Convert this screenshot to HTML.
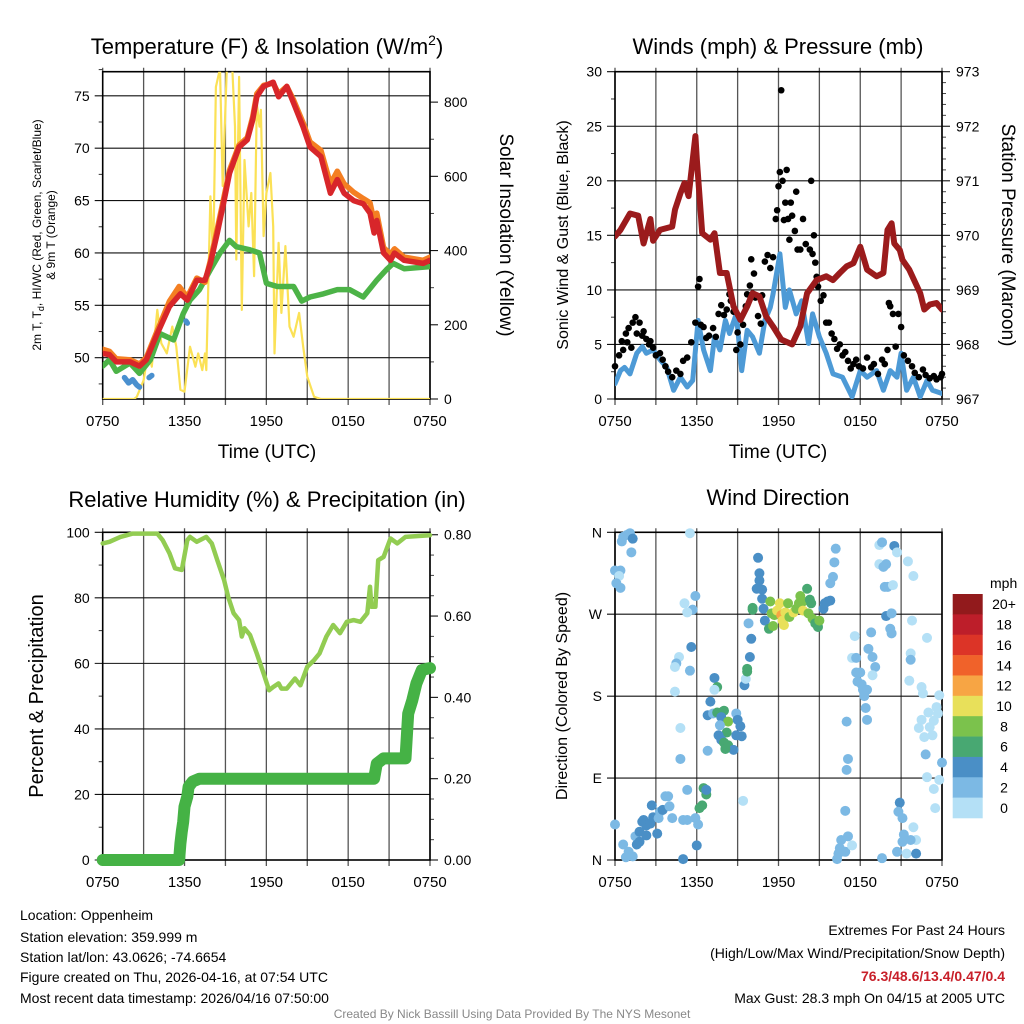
<!DOCTYPE html>
<html><head><meta charset="utf-8"><style>
html,body{margin:0;padding:0;background:#fff}
svg{display:block;font-family:"Liberation Sans",Arial,sans-serif}
</style></head><body>
<svg id="chart" width="1024" height="1024" viewBox="0 0 1024 1024" xmlns="http://www.w3.org/2000/svg">
<defs>
<clipPath id="c1"><rect x="102.7" y="71.7" width="327.3" height="327.3"/></clipPath>
<clipPath id="c2"><rect x="615" y="71.7" width="327" height="327.3"/></clipPath>
<clipPath id="c3"><rect x="96" y="526" width="340" height="340"/></clipPath>
<clipPath id="c4"><rect x="609" y="526" width="339" height="340"/></clipPath>
</defs>
<g id="layer"></g>
<text x="267" y="54" font-size="22" text-anchor="middle">Temperature (F) &amp; Insolation (W/m<tspan dy="-9" font-size="14">2</tspan><tspan dy="9">)</tspan></text>
<text x="778" y="54" font-size="22" text-anchor="middle">Winds (mph) &amp; Pressure (mb)</text>
<text x="267" y="507" font-size="22" text-anchor="middle">Relative Humidity (%) &amp; Precipitation (in)</text>
<text x="778" y="505" font-size="22" text-anchor="middle">Wind Direction</text>
<text x="267" y="458" font-size="19" text-anchor="middle">Time (UTC)</text>
<text x="778" y="458" font-size="19" text-anchor="middle">Time (UTC)</text>
<text transform="translate(41,235) rotate(-90)" font-size="12" text-anchor="middle">2m T, T<tspan dy="3" font-size="9">d</tspan><tspan dy="-3">, HI/WC (Red, Green, Scarlet/Blue)</tspan></text>
<text transform="translate(55,235) rotate(-90)" font-size="12" text-anchor="middle">&amp; 9m T (Orange)</text>
<text transform="translate(500,235) rotate(90)" font-size="19" text-anchor="middle">Solar Insolation (Yellow)</text>
<text transform="translate(568,235) rotate(-90)" font-size="16" text-anchor="middle">Sonic Wind &amp; Gust (Blue, Black)</text>
<text transform="translate(1002,235) rotate(90)" font-size="19" text-anchor="middle">Station Pressure (Maroon)</text>
<text transform="translate(43,696) rotate(-90)" font-size="20" text-anchor="middle">Percent &amp; Precipitation</text>
<text transform="translate(567,696) rotate(-90)" font-size="16" text-anchor="middle">Direction (Colored By Speed)</text>
<text x="990" y="588" font-size="14">mph</text>
<g font-size="14">
<text x="20" y="920">Location: Oppenheim</text>
<text x="20" y="942">Station elevation: 359.999 m</text>
<text x="20" y="962">Station lat/lon: 43.0626; -74.6654</text>
<text x="20" y="982">Figure created on Thu, 2026-04-16, at 07:54 UTC</text>
<text x="20" y="1003">Most recent data timestamp: 2026/04/16 07:50:00</text>
</g>
<g font-size="14" text-anchor="end">
<text x="1005" y="935">Extremes For Past 24 Hours</text>
<text x="1005" y="958">(High/Low/Max Wind/Precipitation/Snow Depth)</text>
<text x="1005" y="981" fill="#c8202a" font-weight="bold">76.3/48.6/13.4/0.47/0.4</text>
<text x="1005" y="1003">Max Gust: 28.3 mph On 04/15 at 2005 UTC</text>
</g>
<text x="512" y="1018" font-size="12" fill="#888" text-anchor="middle">Created By Nick Bassill Using Data Provided By The NYS Mesonet</text>
</svg>
<script>
// ---------- data ----------
const xTickHours = [0, 6, 12, 18, 24];
const xTickLabels = ['0750', '1350', '1950', '0150', '0750'];
const tempTicks = [50, 55, 60, 65, 70, 75];
const solarTicks = [0, 200, 400, 600, 800];
const windTicks = [0, 5, 10, 15, 20, 25, 30];
const presTicks = [967, 968, 969, 970, 971, 972, 973];
const rhTicks = [0, 20, 40, 60, 80, 100];
const precipTicks = [0, 0.2, 0.4, 0.6, 0.8];
const precipTickLabels = ['0.00', '0.20', '0.40', '0.60', '0.80'];
const dirTicks = [0, 90, 180, 270, 360];
const dirTickLabels = ['N', 'E', 'S', 'W', 'N'];
const speedBins = ['0', '2', '4', '6', '8', '10', '12', '14', '16', '18', '20+'];
const speedColors = ['#b4e0f6', '#7cb9e4', '#4a8fc6', '#48a872', '#7bc24c', '#e8e05a', '#f7a544', '#f0622a', '#dc3427', '#bd1e2a', '#921a1c'];

const redT = [0, 0.5, 1, 2, 2.7, 3.2, 4, 4.9, 5.7, 6.2, 6.9, 7.5, 7.9, 8.4, 8.9, 9.3, 10, 10.6, 11, 11.3, 11.8, 12.5, 12.9, 13.5, 14, 14.7, 15.2, 16, 16.7, 17.2, 17.7, 18.4, 19.1, 19.6, 19.9, 20.1, 20.6, 21.1, 21.4, 22.1, 23.5, 24];
const redV = [50.4, 50.3, 49.6, 49.6, 49.2, 49.8, 52.3, 54.9, 56.1, 55.5, 57.4, 57.4, 59.0, 61.9, 65.0, 67.6, 70.1, 70.8, 72.7, 74.9, 75.9, 76.3, 74.9, 75.9, 74.3, 72.0, 70.1, 69.2, 65.7, 67.0, 65.7, 65.0, 64.7, 63.8, 61.9, 63.1, 60.0, 59.3, 60.0, 59.3, 59.0, 59.3];
const orangeT = [0, 0.5, 1, 2, 2.7, 3.2, 4, 4.9, 5.6, 6.2, 6.9, 7.5, 7.9, 8.4, 8.9, 9.3, 10, 10.6, 11, 11.3, 11.8, 12.5, 12.9, 13.5, 14, 14.7, 15.2, 16, 16.7, 17.2, 17.7, 18.4, 19.1, 19.6, 19.9, 20.1, 20.6, 21.1, 21.4, 22.1, 23.5, 24];
const orangeV = [50.8, 50.6, 49.9, 49.8, 49.4, 50.0, 52.6, 55.4, 56.8, 55.8, 57.6, 57.2, 59.3, 62.3, 65.4, 67.9, 70.3, 71.0, 73.0, 75.2, 76.0, 76.2, 75.2, 75.9, 74.6, 72.4, 70.6, 69.8, 66.6, 67.8, 66.6, 65.8, 65.2, 64.8, 63.0, 63.8, 60.5, 59.9, 60.4, 59.6, 59.3, 59.6];
const greenT = [0, 0.5, 1, 2, 2.7, 3.5, 4.2, 5.2, 5.9, 6.4, 7.1, 7.9, 8.6, 9.3, 9.8, 10.8, 11.5, 12, 12.8, 13.5, 14, 14.6, 15.2, 16.2, 17.2, 18.1, 19.1, 20.1, 20.8, 21.3, 22.1, 24];
const greenV = [49.2, 49.8, 48.7, 49.5, 48.5, 49.8, 52.3, 51.7, 54.2, 55.5, 56.5, 58.4, 60.0, 61.2, 60.6, 60.3, 60.0, 57.1, 56.8, 56.8, 56.8, 55.4, 55.8, 56.1, 56.5, 56.5, 55.8, 57.4, 58.4, 59.0, 58.5, 58.7];
const blueSegT = [[1.6, 1.9, 2.2, 2.5, 2.7], [3.4, 3.6], [6.1, 6.2]];
const blueSegV = [[48.1, 47.6, 47.9, 47.4, 47.2], [48.1, 48.3], [53.5, 53.3]];
const solarT = [0, 2.3, 2.5, 3, 3.35, 3.6, 4, 4.3, 4.7, 5.1, 5.4, 5.7, 6.0, 6.4, 6.8, 7.0, 7.3, 7.5, 7.6, 7.9, 8.1, 8.3, 8.6, 8.8, 9.1, 9.5, 9.7, 9.8, 10.0, 10.2, 10.4, 10.7, 10.9, 11.1, 11.3, 11.5, 11.6, 11.8, 12.0, 12.3, 12.5, 12.6, 12.9, 13.1, 13.4, 13.7, 14.0, 14.4, 14.7, 15.0, 15.5, 16, 24];
const solarV = [0, 0, 6, 50, 133, 87, 240, 150, 123, 195, 141, 25, 20, 141, 87, 123, 78, 123, 78, 546, 376, 841, 890, 574, 890, 890, 734, 376, 868, 240, 644, 465, 555, 331, 797, 734, 779, 439, 555, 609, 465, 123, 421, 232, 412, 195, 168, 232, 141, 60, 6, 0, 0];

const presT = [0, 0.4, 1.1, 1.7, 2.1, 2.6, 2.8, 3.3, 4.2, 4.4, 4.8, 5.1, 5.4, 5.9, 6.0, 6.4, 7.0, 7.3, 7.7, 8.2, 8.7, 9.2, 9.7, 10.1, 10.6, 11.1, 11.6, 12.2, 13.0, 13.6, 14.1, 14.8, 15.5, 16.0, 16.5, 17.0, 17.5, 18.0, 18.5, 19.2, 19.7, 20.0, 20.3, 20.5, 20.9, 21.1, 21.6, 22.4, 22.7, 23.1, 23.6, 24];
const presV = [969.98, 970.1, 970.4, 970.36, 969.85, 970.3, 969.9, 970.1, 970.16, 970.47, 970.77, 970.96, 970.72, 971.82, 971.4, 970.04, 969.92, 970.04, 969.31, 969.31, 968.7, 968.45, 968.7, 968.94, 968.88, 968.51, 968.33, 968.09, 968.0, 968.33, 968.94, 969.18, 969.25, 969.18, 969.31, 969.43, 969.49, 969.79, 969.37, 969.25, 969.31, 970.1, 970.22, 969.85, 969.73, 969.55, 969.37, 968.94, 968.64, 968.73, 968.76, 968.64];
const windT = [0, 0.4, 0.7, 1.1, 1.6, 2.0, 2.3, 2.8, 3.3, 3.8, 4.3, 4.8, 5.3, 5.7, 6.1, 6.5, 7.0, 7.3, 7.7, 8.1, 8.4, 8.9, 9.3, 9.7, 10.1, 10.6, 11.0, 11.4, 11.6, 12.1, 12.5, 12.8, 13.3, 13.7, 14.2, 14.5, 15.0, 15.5, 16.0, 16.7, 17.4, 18.0, 18.5, 19.2, 19.7, 20.2, 20.7, 21.0, 21.4, 21.9, 22.4, 22.9, 23.3, 24];
const windV = [1.4, 2.6, 2.9, 2.3, 4.2, 4.8, 4.2, 4.5, 3.6, 2.9, 0.8, 2.0, 1.1, 1.7, 7.2, 4.5, 2.6, 5.7, 4.5, 7.2, 6.0, 7.8, 2.6, 6.3, 5.7, 4.2, 7.2, 8.4, 9.6, 13.3, 8.4, 10.0, 7.8, 9.0, 5.1, 7.8, 5.7, 4.2, 2.3, 2.0, 0.2, 2.6, 2.0, 2.6, 0.8, 2.6, 2.0, 4.2, 0.8, 2.0, 0.2, 1.7, 0.8, 0.5];
const gustT = [0.0, 0.3, 0.5, 0.6, 0.8, 0.9, 1.0, 1.2, 1.3, 1.5, 1.6, 1.8, 2.0, 2.1, 2.3, 2.5, 2.6, 2.8, 3.0, 3.3, 3.5, 3.7, 3.9, 4.2, 4.5, 4.8, 5.0, 5.3, 5.6, 5.9, 6.1, 6.2, 6.3, 6.5, 6.7, 6.9, 7.2, 7.4, 7.6, 7.8, 8.0, 8.2, 8.4, 8.5, 8.7, 8.9, 9.0, 9.2, 9.4, 9.6, 9.7, 9.9, 10.0, 10.2, 10.3, 10.5, 10.7, 10.8, 11.0, 11.2, 11.4, 11.6, 11.8, 11.9, 12.0, 12.1, 12.2, 12.3, 12.4, 12.5, 12.6, 12.7, 12.8, 12.9, 13.0, 13.2, 13.3, 13.4, 13.6, 13.8, 14.0, 14.3, 14.4, 14.5, 14.6, 14.7, 14.8, 14.9, 15.1, 15.3, 15.5, 15.7, 15.9, 16.1, 16.3, 16.5, 16.7, 16.9, 17.1, 17.3, 17.5, 17.7, 17.9, 18.2, 18.5, 18.8, 19.0, 19.3, 19.6, 19.8, 20.0, 20.1, 20.2, 20.4, 20.6, 20.8, 21.0, 21.2, 21.5, 21.8, 22.0, 22.3, 22.6, 22.8, 23.1, 23.4, 23.6, 23.9, 24.0];
const gustV = [3.0, 4.0, 5.3, 4.5, 6.0, 5.2, 6.5, 4.7, 7.0, 7.5, 6.0, 7.0, 5.8, 6.2, 5.5, 5.0, 5.3, 4.7, 4.0, 4.2, 3.6, 3.0, 2.5, 2.0, 2.6, 2.3, 3.5, 3.8, 5.2, 7.0, 10.3, 11.0, 6.8, 6.6, 5.6, 5.8, 6.5, 5.7, 7.8, 8.6, 7.7, 8.2, 9.6, 9.0, 8.0, 4.5, 6.1, 5.0, 6.8, 8.5, 9.6, 10.4, 12.8, 11.5, 9.3, 7.6, 6.9, 9.5, 12.6, 13.2, 12.0, 13.0, 16.5, 17.3, 19.5, 20.8, 28.3, 20.0, 16.4, 18.0, 21.0, 16.5, 14.6, 18.0, 16.8, 15.4, 19.0, 13.7, 13.7, 16.5, 14.2, 13.7, 20.0, 13.3, 15.0, 12.5, 11.2, 10.3, 9.0, 9.5, 7.0, 7.0, 6.0, 5.5, 4.6, 5.0, 4.0, 4.3, 3.5, 2.8, 3.2, 3.6, 3.0, 2.8, 3.8, 2.9, 3.2, 2.3, 3.6, 3.2, 4.5, 8.8, 8.5, 7.8, 4.8, 7.8, 6.6, 4.0, 3.5, 3.0, 2.4, 2.0, 2.7, 2.2, 1.9, 2.1, 1.8, 2.0, 2.3];

const rhT = [0, 0.5, 1.3, 2.2, 4.0, 4.4, 4.9, 5.3, 5.8, 6.2, 6.4, 6.9, 7.6, 8.0, 8.4, 8.9, 9.2, 9.6, 10.0, 10.2, 10.4, 10.8, 11.3, 11.8, 12.2, 12.5, 12.9, 13.1, 13.5, 14.1, 14.5, 15.0, 15.5, 15.9, 16.4, 16.9, 17.4, 17.9, 18.4, 18.9, 19.4, 19.6, 19.7, 20.0, 20.2, 20.6, 21.1, 21.6, 22.2, 24];
const rhV = [96.6, 97.1, 98.6, 99.6, 99.6, 97.6, 93.6, 89.0, 88.5, 97.6, 98.6, 97.1, 98.6, 96.6, 91.5, 85.4, 80.3, 75.3, 73.2, 68.2, 70.7, 68.7, 63.0, 56.9, 51.8, 52.8, 53.9, 52.3, 52.3, 55.4, 53.3, 59.0, 61.0, 63.0, 68.2, 71.7, 69.2, 72.7, 73.2, 72.7, 75.3, 83.4, 77.3, 77.3, 91.5, 92.5, 98.1, 96.6, 98.6, 99.1];
const precipT = [0, 5.6, 5.7, 5.8, 5.9, 6.0, 6.2, 6.3, 6.6, 7.1, 19.9, 20.1, 20.6, 22.2, 22.3, 22.4, 22.7, 23.0, 23.4, 24];
const precipV = [0, 0, 0.04, 0.07, 0.094, 0.131, 0.156, 0.18, 0.193, 0.2, 0.2, 0.237, 0.25, 0.25, 0.303, 0.36, 0.393, 0.434, 0.467, 0.472];

const dirT = [0.6, 0.86, 1.1, 1.3, 0.5, 1.2, 0, 0.4, 0.3, 0.1, 0.4, 5.5, 5.9, 5.1, 5.7, 5.3, 5.6, 4.7, 4.5, 4.4, 5.5, 4.4, 4.8, 4.8, 6.8, 7.3, 7.5, 7.3, 7.0, 6.8, 7.2, 7.5, 7.8, 8.0, 7.8, 8.3, 7.7, 8.2, 7.6, 7.8, 8.0, 8.3, 8.7, 8.1, 8.9, 9.0, 9.2, 9.3, 8.9, 9.5, 9.6, 9.7, 9.7, 9.9, 10.0, 9.8, 10.1, 10.1, 10.5, 10.6, 10.6, 10.4, 10.8, 10.8, 10.9, 11.0, 11.3, 11.6, 11.4, 11.5, 11.7, 11.9, 12.1, 12.2, 12.3, 12.4, 12.5, 12.7, 12.8, 13.1, 13.3, 13.5, 13.6, 13.8, 14.1, 14.3, 14.4, 13.8, 14.2, 14.5, 14.7, 14.9, 15.0, 15.3, 15.4, 15.6, 15.8, 15.8, 16.0, 16.1, 16.2, 17.6, 17.4, 17.7, 17.7, 18.0, 17.8, 18.1, 18.2, 18.5, 18.3, 18.4, 18.5, 17.0, 17.1, 17.0, 16.9, 17.1, 16.6, 16.5, 16.4, 16.9, 16.3, 17.4, 18.6, 18.8, 18.9, 19.1, 18.9, 19.4, 19.6, 19.4, 19.7, 19.9, 19.8, 20.0, 20.4, 19.9, 20.3, 20.2, 20.3, 20.5, 20.7, 19.6, 20.9, 20.8, 21.1, 21.2, 21.1, 20.7, 21.4, 21.5, 21.9, 21.8, 21.7, 21.7, 21.6, 22.5, 22.6, 22.9, 23.8, 23.6, 23.0, 22.5, 22.3, 23.4, 23.1, 23.3, 22.7, 23.7, 22.8, 24.0, 22.9, 23.8, 23.4, 23.5, 21.9, 22.1, 22.1, 21.7, 0, 0.6, 1.0, 0.8, 1.3, 1.5, 1.6, 1.8, 1.8, 2.0, 2.1, 2.3, 2.6, 2.3, 2.7, 2.8, 3.1, 3.2, 3.3, 3.5, 3.7, 3.9, 4.0, 4.2, 5.0, 5.3, 5.3, 5.9, 6.1, 6.2, 6.4, 6.5, 6.7, 6.7, 6.0, 5.0, 9.4];
const dirV = [355, 357, 359, 353, 350, 338, 318, 318, 312, 304, 299, 359, 290, 282, 275, 272, 234, 223, 216, 212, 208, 185, 145, 111, 120, 200, 190, 187, 174, 159, 161, 162, 162, 164, 157, 152, 148, 140, 137, 132, 129, 126, 121, 122, 161, 154, 147, 136, 137, 192, 199, 207, 210, 223, 243, 260, 275, 277, 332, 315, 307, 298, 297, 287, 276, 263, 254, 257, 284, 271, 269, 274, 282, 269, 263, 258, 272, 282, 267, 272, 276, 282, 290, 284, 298, 286, 282, 274, 271, 265, 260, 256, 263, 276, 282, 284, 285, 304, 311, 327, 342, 246, 222, 222, 206, 206, 196, 193, 187, 187, 180, 167, 154, 152, 111, 99, 54, 26, 22, 13, 7, 9, 1, 16, 232, 250, 223, 212, 203, 346, 349, 325, 322, 325, 300, 300, 302, 268, 271, 254, 249, 345, 338, 2, 63, 53, 46, 28, 20, 9, 7, 328, 312, 263, 227, 220, 197, 190, 183, 244, 181, 168, 162, 154, 145, 153, 146, 137, 135, 161, 116, 107, 91, 88, 78, 57, 36, 22, 7, 22, 39, 17, 9, 3, 4, 26, 17, 20, 31, 42, 44, 38, 40, 27, 60, 47, 29, 46, 53, 55, 70, 70, 59, 46, 44, 44, 77, 46, 39, 57, 60, 79, 72, 77, 16, 1, 65];
const dirSpd = [3, 3, 3, 5, 3, 3, 2, 3, 1, 2, 3, 1, 3, 1, 3, 1, 4, 1, 2, 1, 3, 1, 1, 2, 2, 4, 6, 1, 4, 4, 3, 6, 6, 6, 4, 8, 2, 6, 4, 4, 6, 6, 4, 6, 2, 4, 4, 4, 4, 4, 1, 6, 6, 4, 4, 2, 6, 6, 4, 4, 4, 4, 4, 4, 4, 4, 6, 8, 8, 8, 8, 10, 10, 12, 10, 10, 10, 8, 8, 10, 8, 8, 8, 8, 6, 6, 6, 10, 8, 8, 6, 6, 8, 4, 4, 4, 4, 2, 2, 2, 2, 1, 1, 2, 2, 2, 2, 2, 2, 2, 2, 2, 2, 2, 2, 2, 2, 2, 2, 2, 2, 2, 2, 1, 2, 2, 2, 2, 1, 1, 2, 1, 2, 2, 2, 2, 1, 4, 2, 2, 2, 4, 1, 2, 4, 2, 2, 2, 2, 2, 1, 1, 1, 1, 1, 2, 1, 1, 1, 1, 1, 1, 1, 1, 1, 1, 1, 1, 1, 1, 2, 2, 1, 1, 1, 1, 1, 1, 4, 2, 2, 2, 2, 2, 2, 2, 4, 4, 4, 4, 4, 4, 4, 4, 4, 4, 4, 2, 2, 4, 2, 2, 2, 2, 2, 2, 2, 2, 2, 6, 6, 6, 6, 4, 4, 4, 1, 2];

// ---------- helpers ----------
const NS = 'http://www.w3.org/2000/svg';
const layer = document.getElementById('layer');
function mk(tag, attrs, parent) {
  const e = document.createElementNS(NS, tag);
  for (const k in attrs) e.setAttribute(k, attrs[k]);
  (parent || layer).appendChild(e);
  return e;
}
function lin(d0, d1, r0, r1) { return v => r0 + (v - d0) / (d1 - d0) * (r1 - r0); }

const P1 = {x0: 102.7, x1: 430, y0: 71.7, y1: 399};
const P2 = {x0: 615, x1: 942, y0: 71.7, y1: 399};
const P3 = {x0: 102.7, x1: 430, y0: 532.3, y1: 860};
const P4 = {x0: 615, x1: 942, y0: 532.3, y1: 860};

function frame(P, name, leftTicks, leftLabels, yL, rightTicks, rightLabels, yR, leftMinor, rightMinor) {
  const xs = lin(0, 24, P.x0, P.x1);
  const g = mk('g', {});
  
  
  for (let h = 0; h <= 24; h += 3) {
    const l = mk('line', {x1: xs(h), x2: xs(h), y1: P.y0 - 4, y2: P.y1 + 6, stroke: '#555', 'stroke-width': 1.3}, g);
    
    
  }
  xTickHours.forEach((h, i) => {
    const t = mk('text', {x: xs(h), y: P.y1 + 27, 'font-size': 15, 'text-anchor': 'middle'}, g);
    t.textContent = xTickLabels[i];
    
    
  });
  leftTicks.forEach((v, i) => {
    const y = yL(v);
    const l = mk('line', {x1: P.x0 - 8, x2: P.x1, y1: y, y2: y, stroke: '#111', 'stroke-width': 1.1}, g);
    
    
    const t = mk('text', {x: P.x0 - 13, y: y + 5, 'font-size': 14, 'text-anchor': 'end'}, g);
    t.textContent = leftLabels[i];
    
    
  });
  (leftMinor || []).forEach(v => {
    const l = mk('line', {x1: P.x0 - 4, x2: P.x0, y1: yL(v), y2: yL(v), stroke: '#333', 'stroke-width': 1}, g);
    
    
  });
  if (rightTicks) {
    rightTicks.forEach((v, i) => {
      const y = yR(v);
      const l = mk('line', {x1: P.x1, x2: P.x1 + 8, y1: y, y2: y, stroke: '#111', 'stroke-width': 1.1}, g);
      
      
      const t = mk('text', {x: P.x1 + 14, y: y + 5, 'font-size': 14}, g);
      t.textContent = rightLabels[i];
      
      
    });
    (rightMinor || []).forEach(v => {
      const l = mk('line', {x1: P.x1, x2: P.x1 + 4, y1: yR(v), y2: yR(v), stroke: '#444', 'stroke-width': 1}, g);
      
      
    });
  }
  const b = mk('rect', {x: P.x0, y: P.y0, width: P.x1 - P.x0, height: P.y1 - P.y0, fill: 'none', stroke: '#000', 'stroke-width': 1.6}, g);
  
  
  return xs;
}
function line(xs, ys, T, V, color, w, clip, name) {
  const pts = T.map((t, i) => xs(t).toFixed(1) + ',' + ys(V[i]).toFixed(1)).join(' ');
  const p = mk('polyline', {points: pts, fill: 'none', stroke: color, 'stroke-width': w, 'stroke-linejoin': 'round', 'stroke-linecap': 'round', 'clip-path': 'url(#' + clip + ')'});
  
  
  return p;
}
function range(a, b, s) { const r = []; for (let v = a; v <= b + 1e-9; v += s) r.push(+v.toFixed(4)); return r; }

// ---------- panel 1 ----------
const yTemp = lin(46.06, 77.3, P1.y1, P1.y0);
const ySolar = lin(0, 882, P1.y1, P1.y0);
const x1 = frame(P1, 'temp', tempTicks, tempTicks.map(String), yTemp, solarTicks, solarTicks.map(String), ySolar, range(47.5, 77.5, 5), range(100, 850, 100).filter(v => v % 200));
line(x1, ySolar, solarT, solarV, '#fbe156', 2.2, 'c1', 'solar-insolation-line');
line(x1, yTemp, greenT, greenV, '#4cb347', 5.5, 'c1', 'dewpoint-line');
blueSegT.forEach((seg, i) => line(x1, yTemp, seg, blueSegV[i], '#4a90cf', 5.5, 'c1', 'heat-index-windchill-line'));
line(x1, yTemp, orangeT, orangeV, '#f47f22', 5.5, 'c1', 'temp-9m-line');
line(x1, yTemp, redT, redV, '#d8262a', 5.5, 'c1', 'temp-2m-line');

// ---------- panel 2 ----------
const yWind = lin(0, 30, P2.y1, P2.y0);
const yPres = lin(967, 973, P2.y1, P2.y0);
const x2 = frame(P2, 'wind', windTicks, windTicks.map(String), yWind, presTicks, presTicks.map(String), yPres, range(2.5, 27.5, 5), range(967.2, 972.8, 0.2).filter(v => Math.abs(v - Math.round(v)) > 0.05));
line(x2, yWind, windT, windV, '#4d9ad6', 5, 'c2', 'sonic-wind-line');
gustT.forEach((t, i) => {
  const c = mk('circle', {cx: x2(t), cy: yWind(gustV[i]), r: 3.3, fill: '#000'});
  
  
});
line(x2, yPres, presT, presV, '#9b1b1c', 6, 'c2', 'pressure-line');

// ---------- panel 3 ----------
const yRH = lin(0, 100, P3.y1, P3.y0);
const yPrecip = lin(0, 0.806, P3.y1, P3.y0);
const x3 = frame(P3, 'rh', rhTicks, rhTicks.map(String), yRH, precipTicks, precipTickLabels, yPrecip, range(10, 90, 20), range(0.05, 0.75, 0.05).filter(v => Math.abs(v / 0.2 - Math.round(v / 0.2)) > 0.01));
line(x3, yRH, rhT, rhV, '#92cc52', 4.5, 'c3', 'relative-humidity-line');
line(x3, yPrecip, precipT, precipV, '#45b245', 12, 'c3', 'precipitation-line');

// ---------- panel 4 ----------
const yDir = lin(0, 360, P4.y1, P4.y0);
const x4 = frame(P4, 'direction', dirTicks, dirTickLabels, yDir, null, null, null, []);
dirT.forEach((t, i) => {
  const bin = Math.min(10, Math.floor(dirSpd[i] / 2));
  const c = mk('circle', {cx: x4(t), cy: yDir(dirV[i]), r: 5, fill: speedColors[bin], 'clip-path': 'url(#c4)'});
  
  
});
// colorbar
const cbTop = 594, cbH = 224 / speedBins.length;
speedBins.forEach((lab, i) => {
  const k = speedBins.length - 1 - i;
  const r = mk('rect', {x: 952.7, y: cbTop + i * cbH, width: 30, height: cbH + 0.3, fill: speedColors[k]});
  
  
  const t = mk('text', {x: 1004, y: cbTop + i * cbH + cbH / 2 + 5, 'font-size': 14, 'text-anchor': 'middle'});
  t.textContent = speedBins[k];
  
  
});
</script>
</body></html>
